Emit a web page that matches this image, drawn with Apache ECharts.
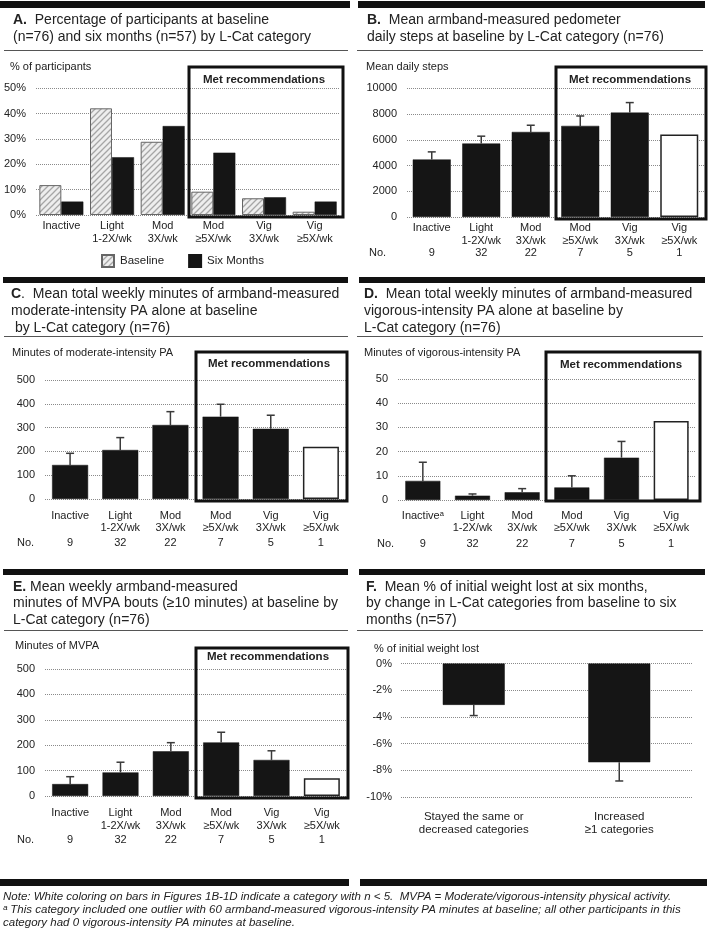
<!DOCTYPE html>
<html><head><meta charset="utf-8">
<script src="https://cdn.jsdelivr.net/npm/echarts@6/dist/echarts.min.js"></script>
<style>html,body{margin:0;padding:0;background:#fff}#c{width:709px;height:928px}</style>
</head><body><div id="c"></div>
<script>
// ---------- data ----------
const catLine1 = ['Inactive','Light','Mod','Mod','Vig','Vig'];
const catLine2 = ['', '1-2X/wk','3X/wk','≥5X/wk','3X/wk','≥5X/wk'];
const counts = [9,32,22,7,5,1];
const pctBaseline = [11.8,42.1,28.9,9.2,6.6,1.3];
const pctSixMonths = [5.3,22.8,35.1,24.6,7.0,5.3];
const stepsMean = [4470,5710,6610,7080,8110,6410];
const stepsErr = [590,570,520,770,780,null];
const modMean = [143,206,311,346,295,220];
const modErr = [49,52,56,52,57,null];
const vigMean = [7.9,1.8,3.2,5.2,17.5,32.6];
const vigErr = [7.7,0.7,1.5,4.8,6.7,null];
const mvpaMean = [47,93,176,211,142,70];
const mvpaErr = [29,40,34,40,36,null];
const weightCats = ['Stayed the same or\ndecreased categories','Increased\n≥1 categories'];
const weightMean = [-3.1,-7.4];
const weightErr = [0.8,1.4];
const ticksA = [0,10,20,30,40,50];
const ticksB = [0,2000,4000,6000,8000,10000];
const ticksC = [0,100,200,300,400,500];
const ticksD = [0,10,20,30,40,50];
const ticksE = [0,100,200,300,400,500];
const ticksF = [-10,-8,-6,-4,-2,0];

// ---------- helpers ----------
const FF = '"Liberation Sans", Arial, sans-serif';
const TXT = '#222';
const catKeys = catLine1.map((a,i)=>a+'\n'+catLine2[i]);

function hatch(){
  const c=document.createElement('canvas'); c.width=6; c.height=6;
  const g=c.getContext('2d'); g.fillStyle='#eeeeee'; g.fillRect(0,0,6,6);
  g.strokeStyle='#a6a6a6'; g.lineWidth=1.3; g.beginPath();
  g.moveTo(0,6); g.lineTo(6,0); g.moveTo(-3,3); g.lineTo(3,-3); g.moveTo(3,9); g.lineTo(9,3);
  g.stroke(); return c;
}
const hatchPattern = {image: hatch(), repeat:'repeat'};

function yAx(grid, ticks, fmt){
  return {type:'value', gridIndex:grid, min:ticks[0], max:ticks[ticks.length-1], interval:ticks[1]-ticks[0],
    axisLine:{show:false}, axisTick:{show:false},
    axisLabel:{color:TXT, fontFamily:FF, fontSize:11, margin:10, formatter: fmt || (v=>String(v))},
    splitLine:{show:true, lineStyle:{type:'dotted', color:'#8a8a8a', width:1}}};
}
function xAx(grid, margin, withCount, lh3, mark){
  return {type:'category', gridIndex:grid, data:catKeys,
    axisLine:{show:false}, axisTick:{show:false},
    axisLabel:{interval:0, margin:margin, color:TXT, fontFamily:FF, fontSize:11,
      formatter:(v,i)=>{
        let s='{a|'+catLine1[i]+(i===0 && mark ? mark : '')+'}\n{a|'+(catLine2[i]||' ')+'}';
        if(withCount) s+='\n{n|'+counts[i]+'}';
        return s;
      },
      rich:{a:{fontFamily:FF,fontSize:11,lineHeight:12.6,color:TXT},
            n:{fontFamily:FF,fontSize:11,lineHeight:lh3,color:TXT}}}};
}
function barData(vals){
  return vals.map((v,i)=> counts[i]<5 ? {value:v, itemStyle:{color:'#fff', borderColor:'#222', borderWidth:1.5}} : v);
}
function errData(means, errs){
  const out=[]; means.forEach((m,i)=>{ if(errs[i]!=null) out.push([i,m,errs[i]]); }); return out;
}
function renderErr(params, api){
  const x=api.value(0), m=api.value(1), e=api.value(2);
  const end = m<0 ? m-e : m+e;
  const p0=api.coord([x,m]), p1=api.coord([x,end]);
  const st={stroke:'#3a3a3a', lineWidth:1.5};
  return {type:'group', children:[
    {type:'line', shape:{x1:p0[0],y1:p0[1],x2:p1[0],y2:p1[1]}, style:st},
    {type:'line', shape:{x1:p1[0]-4,y1:p1[1],x2:p1[0]+4,y2:p1[1]}, style:st}
  ]};
}
function errSeries(idx, means, errs){
  return {type:'custom', xAxisIndex:idx, yAxisIndex:idx, renderItem:renderErr, data:errData(means,errs),
    encode:{x:0,y:1}, z:5, silent:true, clip:false};
}
function meanBar(idx, vals, w){
  return {type:'bar', xAxisIndex:idx, yAxisIndex:idx, data:barData(vals), barWidth:w,
    itemStyle:{color:'#151515', borderColor:'#151515', borderWidth:0.5}, silent:true, z:2};
}

// ---------- graphics (frames, rules, labels) ----------
const G=[];
function rect(x,y,w,h){ G.push({type:'rect', shape:{x,y,width:w,height:h}, style:{fill:'#111'}, silent:true}); }
function box(x,y,w,h){ G.push({type:'rect', shape:{x,y,width:w,height:h}, style:{fill:'none', stroke:'#111', lineWidth:3}, silent:true, z:10}); }
function rule(x1,x2,y){ G.push({type:'line', shape:{x1,y1:y,x2,y2:y}, style:{stroke:'#555', lineWidth:1}, silent:true}); }
function txt(s,x,y,opt){
  opt=opt||{};
  G.push({type:'text', x, y, silent:true, z:11, style:{text:s, fill:TXT,
    font:(opt.font||'11px '+FF), textAlign:opt.align||'left', textVerticalAlign:'middle',
    align:opt.align||'left', verticalAlign:'middle'}});
}
// top thick bars
rect(0,1,350,7); rect(358,1,347,7);
rect(3,277,345,6); rect(359,277,346,6);
rect(3,569,345,6); rect(359,569,346,6);
rect(0,879,349,7); rect(360,879,347,7);
// rules under titles
rule(4,348,50.5); rule(357,703,50.5);
rule(4,348,336.5); rule(357,703,336.5);
rule(4,348,630.5); rule(357,703,630.5);
// y axis names
txt('% of participants',10,67);
txt('Mean daily steps',366,67);
txt('Minutes of moderate-intensity PA',12,353);
txt('Minutes of vigorous-intensity PA',364,353);
txt('Minutes of MVPA',15,646);
txt('% of initial weight lost',374,649);
// No. labels
txt('No.',369,253); txt('No.',17,543); txt('No.',377,544); txt('No.',17,840);
// Met recommendation boxes
const MR='bold 11.5px '+FF;
box(189,67,154,150); txt('Met recommendations',264,80,{align:'center',font:MR});
box(556,67,150,152); txt('Met recommendations',630,80,{align:'center',font:MR});
box(196,352,151,149); txt('Met recommendations',269,364,{align:'center',font:MR});
box(546,352,154,149); txt('Met recommendations',621,365,{align:'center',font:MR});
box(196,648,152,150); txt('Met recommendations',268,657,{align:'center',font:MR});
// footnote
const FN='italic 11.5px '+FF;
txt('Note: White coloring on bars in Figures 1B-1D indicate a category with n < 5.  MVPA = Moderate/vigorous-intensity physical activity.',3,897,{font:FN});
txt('ᵃ This category included one outlier with 60 armband-measured vigorous-intensity PA minutes at baseline; all other participants in this',3,910,{font:FN});
txt('category had 0 vigorous-intensity PA minutes at baseline.',3,922.5,{font:FN});

// ---------- titles ----------
const tStyle={color:TXT, fontFamily:FF, fontSize:14, fontWeight:'normal', lineHeight:17,
  rich:{b:{fontFamily:FF,fontSize:14,fontWeight:'bold',color:TXT,lineHeight:17}}};
const tStyle2=Object.assign({},tStyle,{lineHeight:16.6, rich:{b:{fontFamily:FF,fontSize:14,fontWeight:'bold',color:TXT,lineHeight:16.6}}});
const titles=[
  {left:13, top:11.5, padding:0, text:'{b|A.}  Percentage of participants at baseline\n(n=76) and six months (n=57) by L-Cat category', textStyle:tStyle},
  {left:367, top:11.5, padding:0, text:'{b|B.}  Mean armband-measured pedometer\ndaily steps at baseline by L-Cat category (n=76)', textStyle:tStyle},
  {left:11, top:285.5, padding:0, text:'{b|C}.  Mean total weekly minutes of armband-measured\nmoderate-intensity PA alone at baseline\n by L-Cat category (n=76)', textStyle:tStyle},
  {left:364, top:285.5, padding:0, text:'{b|D.}  Mean total weekly minutes of armband-measured\nvigorous-intensity PA alone at baseline by\nL-Cat category (n=76)', textStyle:tStyle},
  {left:13, top:578.7, padding:0, text:'{b|E.} Mean weekly armband-measured\nminutes of MVPA bouts (≥10 minutes) at baseline by\nL-Cat category (n=76)', textStyle:tStyle2},
  {left:366, top:578.7, padding:0, text:'{b|F.}  Mean % of initial weight lost at six months,\nby change in L-Cat categories from baseline to six\nmonths (n=57)', textStyle:tStyle2}
];

const chart = echarts.init(document.getElementById('c'), null, {renderer:'canvas'});
chart.setOption({
  animation:false,
  backgroundColor:'#fff',
  title:titles,
  legend:{left:96, top:249, itemWidth:12, itemHeight:12, itemGap:24, icon:'rect',
    textStyle:{color:TXT, fontFamily:FF, fontSize:11.5, padding:[0,0,0,1]},
    data:['Baseline','Six Months'], selectedMode:false},
  grid:[
    {left:36, top:88.3, width:304, height:126.7},
    {left:407, top:88.3, width:297, height:128.7},
    {left:45, top:380, width:301, height:119},
    {left:398, top:379, width:298, height:121},
    {left:45, top:669, width:302, height:127},
    {left:401, top:663.5, width:291, height:133.5}
  ],
  xAxis:[
    xAx(0,4.7,false,12.6),
    xAx(1,5,true,11.4),
    xAx(2,10.4,true,17.4),
    xAx(3,9.4,true,18.8,'ᵃ'),
    xAx(4,11,true,16),
    {type:'category', gridIndex:5, data:weightCats, axisLine:{show:false}, axisTick:{show:false},
      axisLabel:{interval:0, margin:13.7, color:TXT, fontFamily:FF, fontSize:11.5, lineHeight:12.6}}
  ],
  yAxis:[
    yAx(0,ticksA,'{value}%'),
    yAx(1,ticksB),
    yAx(2,ticksC),
    yAx(3,ticksD),
    yAx(4,ticksE),
    Object.assign(yAx(5,ticksF,'{value}%'),{axisLabel:{color:TXT,fontFamily:FF,fontSize:11,margin:9,formatter:'{value}%'}})
  ],
  graphic:{elements:G},
  series:[
    {name:'Baseline', type:'bar', xAxisIndex:0, yAxisIndex:0, data:pctBaseline, barWidth:22, barGap:'0%',
      itemStyle:{color:hatchPattern, borderColor:'#666', borderWidth:1}, silent:true},
    {name:'Six Months', type:'bar', xAxisIndex:0, yAxisIndex:0, data:pctSixMonths, barWidth:22, barGap:'0%',
      itemStyle:{color:'#151515', borderColor:'#151515', borderWidth:0.5}, silent:true},
    meanBar(1, stepsMean, 38), errSeries(1, stepsMean, stepsErr),
    meanBar(2, modMean, 36), errSeries(2, modMean, modErr),
    meanBar(3, vigMean, 35), errSeries(3, vigMean, vigErr),
    meanBar(4, mvpaMean, 36), errSeries(4, mvpaMean, mvpaErr),
    {type:'bar', xAxisIndex:5, yAxisIndex:5, data:weightMean, barWidth:62,
      itemStyle:{color:'#151515', borderColor:'#151515', borderWidth:0.5}, silent:true},
    errSeries(5, weightMean, weightErr)
  ]
});
</script>
</body></html>
